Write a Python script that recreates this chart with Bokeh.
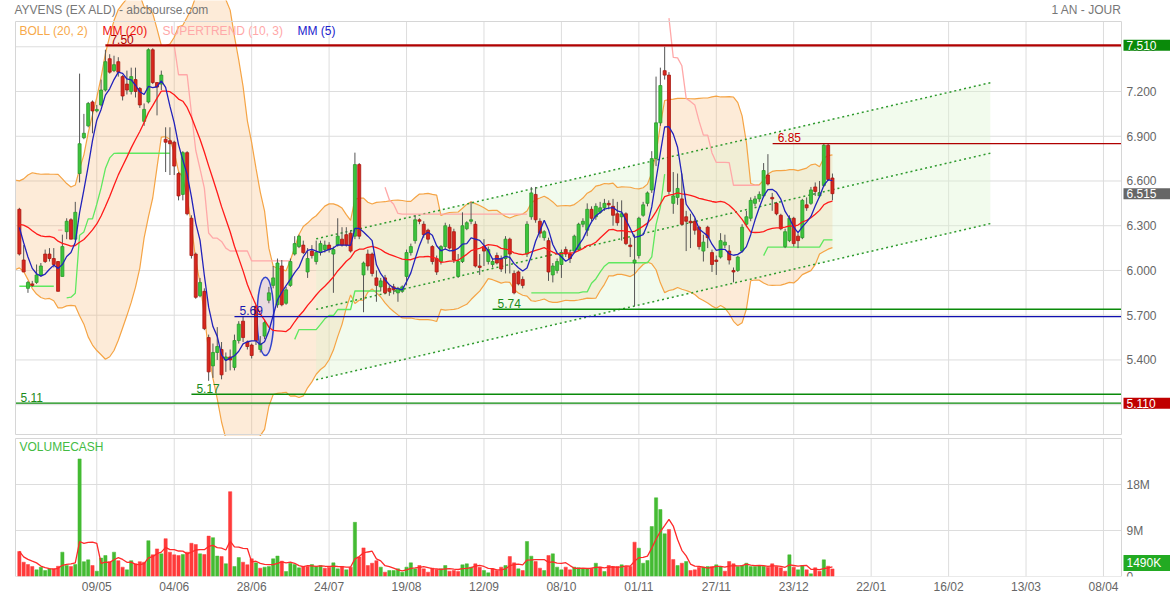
import numpy as np
import pandas as pd
from bokeh.plotting import figure
from bokeh.layouts import column
from bokeh.models import Range1d, FixedTicker, Label
from bokeh.core.properties import value
from bokeh.embed import file_html
from bokeh.resources import INLINE

FONT = "Liberation Sans"

# ---------------- data ----------------
warmup_closes = [6.05, 6.10, 6.20, 6.35, 6.40, 6.30, 6.15, 6.05, 6.20, 6.35,
                 6.45, 6.52, 6.40, 6.30, 6.42, 6.55, 6.50, 6.40, 6.28, 6.15]
supertrend_atr_seed = 0.10

opens = [6.41, 6.07, 5.88, 5.91, 5.92, 5.97, 6.11, 6.11, 6.08, 6.06,
         5.96, 6.26, 6.34, 6.21, 6.65, 6.89, 6.97, 7.13, 7.07, 7.11,
         7.21, 7.42, 7.34, 7.40, 7.30, 7.25, 7.20, 7.28, 7.22, 7.00,
         7.13, 7.48, 7.26, 7.25, 6.88, 6.87, 6.86, 6.65, 6.51, 6.79,
         6.35, 6.11, 5.83, 5.86, 5.55, 5.36, 5.45, 5.47, 5.40, 5.42,
         5.35, 5.53, 5.66, 5.52, 5.50, 5.76, 5.47, 5.56, 5.80, 5.90,
         5.77, 6.03, 5.78, 5.90, 6.11, 6.16, 6.17, 5.99, 6.13, 6.06,
         6.12, 6.14, 6.17, 6.11, 6.17, 6.21, 6.24, 6.25, 6.23, 6.71,
         5.97, 6.11, 6.11, 5.95, 5.89, 5.95, 5.88, 5.89, 5.85, 5.86,
         5.96, 6.12, 6.20, 6.34, 6.31, 6.27, 6.16, 6.08, 6.06, 6.16,
         6.29, 6.26, 5.96, 6.06, 6.28, 6.33, 6.31, 6.03, 6.16, 6.06,
         6.04, 6.10, 6.08, 6.08, 6.21, 5.98, 5.99, 5.94, 6.11, 6.36,
         6.51, 6.33, 6.22, 6.20, 5.97, 6.00, 6.04, 6.14, 6.11, 6.13,
         6.14, 6.31, 6.27, 6.41, 6.36, 6.39, 6.42, 6.45, 6.43, 6.38,
         6.36, 6.38, 6.17, 6.05, 6.10, 6.37, 6.45, 6.54, 6.75, 6.99,
         7.34, 7.31, 6.45, 6.49, 6.48, 6.36, 6.33, 6.33, 6.29, 6.13,
         6.29, 6.12, 6.07, 6.09, 6.17, 6.13, 6.00, 6.00, 6.13, 6.31,
         6.35, 6.45, 6.48, 6.50, 6.64, 6.49, 6.45, 6.37, 6.16, 6.20,
         6.35, 6.23, 6.22, 6.44, 6.45, 6.56, 6.50, 6.57, 6.84, 6.62]

highs = [6.42, 6.17, 5.93, 5.93, 6.04, 6.05, 6.14, 6.15, 6.15, 6.06,
         6.24, 6.35, 6.35, 6.46, 7.32, 7.05, 7.13, 7.14, 7.11, 7.28,
         7.48, 7.45, 7.44, 7.43, 7.31, 7.34, 7.36, 7.36, 7.23, 7.12,
         7.49, 7.49, 7.26, 7.34, 6.96, 6.96, 6.87, 6.66, 6.80, 6.80,
         6.37, 6.12, 5.95, 5.88, 5.57, 5.51, 5.62, 5.52, 5.45, 5.47,
         5.57, 5.66, 5.69, 5.53, 5.51, 5.77, 5.56, 5.67, 5.89, 6.03,
         6.08, 6.07, 5.89, 6.08, 6.23, 6.24, 6.20, 6.15, 6.17, 6.20,
         6.20, 6.20, 6.19, 6.16, 6.35, 6.29, 6.29, 6.27, 6.79, 6.72,
         6.06, 6.14, 6.12, 6.00, 5.95, 5.97, 5.90, 5.91, 5.89, 5.90,
         6.14, 6.18, 6.37, 6.35, 6.33, 6.28, 6.17, 6.10, 6.17, 6.32,
         6.31, 6.28, 6.11, 6.39, 6.33, 6.46, 6.33, 6.11, 6.21, 6.16,
         6.08, 6.12, 6.10, 6.23, 6.22, 6.00, 6.00, 5.96, 6.33, 6.56,
         6.56, 6.35, 6.27, 6.22, 6.05, 6.08, 6.14, 6.16, 6.13, 6.24,
         6.32, 6.35, 6.45, 6.43, 6.45, 6.46, 6.48, 6.47, 6.48, 6.46,
         6.47, 6.39, 6.22, 6.24, 6.36, 6.46, 6.53, 6.80, 7.30, 7.36,
         7.50, 7.33, 6.66, 6.65, 6.65, 6.40, 6.38, 6.35, 6.30, 6.24,
         6.30, 6.14, 6.10, 6.25, 6.24, 6.17, 6.02, 6.10, 6.31, 6.40,
         6.49, 6.50, 6.53, 6.72, 6.78, 6.52, 6.46, 6.38, 6.28, 6.37,
         6.36, 6.25, 6.48, 6.49, 6.56, 6.59, 6.60, 6.85, 6.85, 6.65]

lows = [6.10, 5.99, 5.85, 5.89, 5.91, 5.96, 6.05, 6.06, 6.02, 5.86,
        5.96, 6.21, 6.21, 6.21, 6.59, 6.88, 6.96, 6.92, 7.06, 7.10,
        7.20, 7.32, 7.33, 7.30, 7.14, 7.18, 7.18, 7.16, 7.09, 6.97,
        7.12, 7.25, 7.04, 7.21, 6.66, 6.64, 6.64, 6.47, 6.47, 6.37,
        6.08, 5.81, 5.82, 5.60, 5.26, 5.28, 5.40, 5.27, 5.32, 5.33,
        5.33, 5.51, 5.52, 5.47, 5.41, 5.50, 5.45, 5.54, 5.78, 5.88,
        5.75, 5.76, 5.77, 5.89, 6.10, 6.15, 6.11, 5.95, 6.08, 6.04,
        6.10, 6.12, 6.12, 5.85, 6.16, 6.16, 6.16, 6.12, 6.21, 6.21,
        5.72, 6.00, 5.96, 5.79, 5.86, 5.84, 5.83, 5.84, 5.79, 5.85,
        5.90, 6.10, 6.18, 6.31, 6.22, 6.18, 6.04, 5.97, 6.04, 6.14,
        6.14, 6.05, 5.95, 6.05, 6.27, 6.31, 6.02, 5.97, 6.03, 6.04,
        6.02, 6.04, 5.99, 5.98, 5.98, 5.84, 5.90, 5.88, 6.09, 6.34,
        6.32, 6.22, 6.20, 5.93, 5.92, 5.98, 5.95, 6.09, 6.05, 6.12,
        6.13, 6.29, 6.23, 6.33, 6.34, 6.38, 6.40, 6.41, 6.30, 6.30,
        6.20, 6.17, 6.09, 5.76, 6.08, 6.36, 6.43, 6.52, 6.70, 6.97,
        7.28, 6.51, 6.38, 6.44, 6.30, 6.13, 6.15, 6.24, 6.14, 6.06,
        6.15, 5.99, 5.97, 6.08, 6.15, 6.04, 5.92, 5.99, 6.12, 6.29,
        6.33, 6.43, 6.46, 6.49, 6.57, 6.40, 6.37, 6.27, 6.15, 6.19,
        6.16, 6.15, 6.21, 6.40, 6.44, 6.50, 6.49, 6.56, 6.60, 6.47]

closes = [6.11, 5.99, 5.92, 5.90, 5.97, 6.03, 6.06, 6.08, 6.04, 5.86,
          6.16, 6.33, 6.21, 6.39, 6.85, 6.92, 7.12, 7.07, 7.08, 7.21,
          7.40, 7.33, 7.38, 7.33, 7.17, 7.21, 7.30, 7.20, 7.11, 7.08,
          7.48, 7.26, 7.23, 7.31, 6.86, 6.85, 6.70, 6.50, 6.79, 6.38,
          6.10, 5.82, 5.92, 5.61, 5.32, 5.45, 5.49, 5.30, 5.42, 5.40,
          5.53, 5.64, 5.55, 5.49, 5.43, 5.53, 5.51, 5.65, 5.85, 5.95,
          6.05, 5.77, 5.87, 6.06, 6.18, 6.23, 6.12, 6.08, 6.10, 6.12,
          6.18, 6.17, 6.14, 6.14, 6.23, 6.17, 6.17, 6.13, 6.71, 6.23,
          6.05, 6.03, 5.98, 5.90, 5.93, 5.85, 5.86, 5.87, 5.88, 5.89,
          6.12, 6.16, 6.34, 6.33, 6.24, 6.21, 6.06, 5.99, 6.16, 6.30,
          6.15, 6.07, 6.06, 6.30, 6.32, 6.34, 6.03, 6.02, 6.13, 6.14,
          6.06, 6.05, 6.01, 6.21, 6.11, 5.85, 5.91, 5.90, 6.31, 6.52,
          6.34, 6.25, 6.26, 5.99, 6.03, 6.06, 6.12, 6.11, 6.08, 6.23,
          6.31, 6.33, 6.41, 6.35, 6.43, 6.42, 6.45, 6.44, 6.37, 6.32,
          6.38, 6.18, 6.16, 6.07, 6.35, 6.44, 6.52, 6.75, 6.99, 7.24,
          7.31, 6.53, 6.50, 6.55, 6.31, 6.33, 6.32, 6.27, 6.16, 6.19,
          6.22, 6.04, 6.06, 6.20, 6.19, 6.07, 5.99, 6.09, 6.29, 6.36,
          6.47, 6.48, 6.51, 6.67, 6.58, 6.48, 6.38, 6.28, 6.26, 6.35,
          6.18, 6.20, 6.47, 6.42, 6.54, 6.53, 6.52, 6.84, 6.61, 6.515]

volumes_m = [4.9, 2.8, 2.35, 1.96, 1.3, 1.83, 1.17, 1.5, 1.5, 2.0,
             4.76, 2.15, 1.96, 2.35, 23.0, 2.9, 3.26, 2.15, 1.04, 3.6,
             4.1, 2.9, 4.76, 3.1, 1.83, 1.3, 3.1, 2.5, 2.9, 2.8,
             7.0, 4.24, 5.4, 4.43, 7.4, 4.76, 4.24, 4.1, 4.3, 4.76,
             6.5, 6.26, 4.43, 4.3, 7.9, 7.6, 4.0, 3.9, 2.5, 16.6,
             1.96, 3.7, 2.8, 2.3, 3.46, 2.67, 1.63, 1.83, 1.96, 3.46,
             4.0, 3.0, 0.98, 2.6, 2.35, 1.7, 1.96, 1.96, 2.35, 1.96,
             2.15, 1.63, 1.83, 2.67, 1.5, 1.96, 1.3, 1.83, 10.6, 3.8,
             5.6, 2.15, 2.6, 3.1, 1.83, 0.85, 1.17, 1.17, 1.5, 0.85,
             1.83, 2.67, 1.5, 2.15, 1.5, 0.85, 1.63, 1.37, 1.5, 2.15,
             1.04, 1.17, 0.98, 2.28, 2.48, 1.83, 2.48, 1.83, 1.17, 0.72,
             1.5, 1.17, 1.83, 2.15, 3.91, 2.67, 1.5, 1.17, 6.85, 3.98,
             2.93, 1.63, 1.17, 4.11, 4.43, 1.83, 1.3, 1.83, 1.3, 1.83,
             1.7, 1.5, 1.5, 1.63, 2.6, 1.83, 0.98, 2.15, 1.96, 1.96,
             2.28, 1.96, 1.96, 6.72, 5.54, 2.6, 3.13, 9.78, 15.4, 13.1,
             8.35, 9.2, 3.33, 2.15, 2.6, 2.93, 1.17, 1.3, 1.83, 1.83,
             1.96, 1.96, 2.28, 1.96, 1.04, 2.93, 2.48, 1.96, 2.15, 2.6,
             1.96, 1.96, 2.15, 2.02, 1.83, 2.48, 1.96, 1.7, 1.04, 4.24,
             1.83, 1.3, 2.15, 1.3, 0.52, 1.7, 1.04, 3.26, 2.02, 1.49]

tick_index = [18, 36, 54, 72, 90, 108, 126, 144, 162, 180, 198, 216, 234, 252]
tick_labels = ["09/05", "04/06", "28/06", "24/07", "19/08", "12/09", "08/10",
               "01/11", "27/11", "23/12", "22/01", "16/02", "13/03", "08/04"]
price_ticks = [5.1, 5.4, 5.7, 6.0, 6.3, 6.6, 6.9, 7.2, 7.5]
volume_ticks = [9, 18]
volume_tick_labels = ["9M", "18M"]

level_values = [7.51, 6.85, 5.74, 5.69, 5.17, 5.11]
level_start = [20.0, 175.1, 110.0, 50.0, 40.0, -0.897]
level_texts = ["7.50", "6.85", "5.74", "5.69", "5.17", "5.11"]

channel_x = [69.0, 225.7]
channel_upper = [6.212, 7.259]
channel_lower = [5.267, 6.314]

ellipse_x = [57.2]
ellipse_y = [5.692]
ellipse_w = [3.86]
ellipse_h = [0.525]

period_high = 7.51
period_low = 5.11

# plot-area bounds (data units) and where they sit on the page (pixels)
X0, X1, PX_L, PX_R = -0.897, 256.19, 15, 1121
Y0, Y1, PY_B, PY_T = 4.90, 7.6695, 434, 21
V0, V1, VPY_B, VPY_T = 0.0, 27.0, 576, 438
W, H_PRICE, H_VOL, VOL_AXIS_H = 1170, 436, 162, 22


def xd(px):
    return X0 + (px - PX_L) * (X1 - X0) / (PX_R - PX_L)


def yd(py):
    return Y0 + (PY_B - py) * (Y1 - Y0) / (PY_B - PY_T)


def vd(py):
    return V0 + (VPY_B - py) * (V1 - V0) / (VPY_B - VPY_T)


# ---------------- derived series ----------------
n = len(closes)
idx = np.arange(n)
O = np.array(opens); H = np.array(highs); L = np.array(lows); C = np.array(closes)
V = np.array(volumes_m)
w = len(warmup_closes)

allc = pd.Series(list(warmup_closes) + list(closes))
mm20_all = allc.rolling(20).mean()
sd20_all = allc.rolling(20).std(ddof=0)
mm5_all = allc.rolling(5).mean()
boll_x = np.arange(-1, n)
boll_up = (mm20_all + 2 * sd20_all).values[w - 1:]
boll_lo = (mm20_all - 2 * sd20_all).values[w - 1:]
mm20 = mm20_all.values[w:]
mm5 = mm5_all.values[w:]

prev_c = np.r_[warmup_closes[-1], C[:-1]]
tr = np.maximum(H - L, np.maximum(np.abs(H - prev_c), np.abs(L - prev_c)))
atr = np.zeros(n)
a = supertrend_atr_seed
for i in range(n):
    a = a + (tr[i] - a) / 10.0
    atr[i] = a
hl2 = (H + L) / 2
bu = hl2 + 3 * atr
bl = hl2 - 3 * atr
fu = bu.copy(); fl = bl.copy(); trend = np.ones(n)
for i in range(1, n):
    fu[i] = bu[i] if (bu[i] < fu[i - 1] or C[i - 1] > fu[i - 1]) else fu[i - 1]
    fl[i] = bl[i] if (bl[i] > fl[i - 1] or C[i - 1] < fl[i - 1]) else fl[i - 1]
    if trend[i - 1] == 1:
        trend[i] = -1 if C[i] < fl[i] else 1
    else:
        trend[i] = 1 if C[i] > fu[i] else -1
st_up = np.where(trend == 1, fl, np.nan)
st_dn = np.where(trend == -1, fu, np.nan)

vol_ma = pd.Series(V).rolling(5, min_periods=1).mean().values
vol_up = C >= prev_c

GREEN_C, RED_C = "#3cc43c", "#d8261e"
body_fill = np.where(C >= O, GREEN_C, RED_C)
body_line = np.where(C >= O, "#2a9a2a", "#a81810")
vol_col = np.where(vol_up, "#44bb33", "#ff3a3a")

GRID = "#dddddd"
FRAME = "#d6d6d6"
TICK_TXT = "#666666"

# ---------------- price panel ----------------
XR = Range1d(xd(0), xd(W))
p = figure(width=W, height=H_PRICE, x_range=XR, y_range=Range1d(yd(H_PRICE), yd(0)),
           output_backend="svg", toolbar_location=None,
           x_axis_location=None, y_axis_location=None,
           min_border=0, min_border_left=0, min_border_right=0,
           min_border_top=0, min_border_bottom=0,
           background_fill_color="white", border_fill_color="white",
           outline_line_color=None)
p.xgrid.visible = False
p.ygrid.visible = False

# grid
p.segment(x0=X0, y0=price_ticks, x1=X1, y1=price_ticks, line_color=GRID, line_width=1)
p.segment(x0=tick_index, y0=Y0, x1=tick_index, y1=Y1, line_color=GRID, line_width=1)

# Bollinger band
p.varea(x=boll_x, y1=boll_lo, y2=boll_up, fill_color="#f7af63", fill_alpha=0.25)
# trend channel
p.varea(x=channel_x, y1=channel_lower, y2=channel_upper, fill_color="#dcf4d0", fill_alpha=0.38)
p.line(boll_x, boll_up, line_color="#f5a445", line_width=1.2)
p.line(boll_x, boll_lo, line_color="#f5a445", line_width=1.2)
channel_mid = [(u + l) / 2 for u, l in zip(channel_upper, channel_lower)]
for ys in (channel_upper, channel_mid, channel_lower):
    p.line(channel_x, ys, line_color="#2e9a2e", line_width=1.5, line_dash="2 3")

# supertrend
p.line(idx, st_dn, line_color="#ffa8a8", line_width=1.3)
p.line(idx, st_up, line_color="#5fe85f", line_width=1.3)

# ellipse annotation
p.ellipse(x=ellipse_x, y=ellipse_y, width=ellipse_w, height=ellipse_h,
          fill_color="#d9cce6", fill_alpha=0.55, line_color="#3344cc", line_width=1.5)

# candles
p.segment(x0=idx, y0=L, x1=idx, y1=H, line_color="#555555", line_width=1)
p.vbar(x=idx, width=0.7, top=np.maximum(O, C), bottom=np.minimum(O, C),
       fill_color=body_fill, line_color=body_line, line_width=0.8)

# moving averages
p.line(idx, mm20, line_color="#ff1a1a", line_width=1.3)
p.line(idx, mm5, line_color="#2222bb", line_width=1.3)

# horizontal levels
level_colors = ["#b00000", "#b00000", "#0a8a0a", "#1010b0", "#0a8a0a", "#0a8a0a"]
level_widths = [2.2, 1.3, 1.3, 1.3, 1.3, 1.3]
text_colors = ["#b00000", "#cc0000", "#1a8a1a", "#1a1ab0", "#1a8a1a", "#1a8a1a"]
for lv, ls, lt, lc, lw, tc in zip(level_values, level_start, level_texts,
                                  level_colors, level_widths, text_colors):
    p.segment(x0=[ls], y0=[lv], x1=[X1], y1=[lv], line_color=lc, line_width=lw)
    p.text(x=[ls], y=[lv], text=[lt], x_offset=5, y_offset=-6, text_baseline="middle",
           text_font=value(FONT), text_font_size="12px", text_color=tc)

# frame
p.quad(left=[X0], right=[X1], bottom=[Y0], top=[Y1], fill_color=None,
       line_color=FRAME, line_width=1)

# price tick labels (right side)
p.text(x=xd(PX_R + 5), y=price_ticks, text=["%.3f" % t for t in price_ticks],
       text_baseline="middle", text_font=value(FONT), text_font_size="12px",
       text_color=TICK_TXT)


def txt(fig, px, y, text, color, align="left"):
    fig.text(x=[xd(px)], y=[y], text=[text], text_align=align, text_baseline="middle",
             text_font=value(FONT), text_font_size="12px", text_color=color)


txt(p, 14, yd(9), "AYVENS (EX ALD) - abcbourse.com", "#777777")
txt(p, PX_R, yd(9), "1 AN - JOUR", "#777777", align="right")
txt(p, 19, yd(30), "BOLL (20, 2)", "#f7a94b")
txt(p, 102, yd(30), "MM (20)", "#ee1111")
txt(p, 162, yd(30), "SUPERTREND (10, 3)", "#ffa8a8")
txt(p, 297, yd(30), "MM (5)", "#2222cc")


def box(fig, y, text, bg, yoff=0):
    fig.add_layout(Label(x=PX_R + 2, y=y, x_units="screen", y_units="data", text=text,
                         text_color="white", text_font=FONT, text_font_size="12px",
                         text_baseline="middle", background_fill_color=bg,
                         padding=dict(left=3, right=16, top=1, bottom=1), y_offset=yoff))


box(p, period_high, "%.3f" % period_high, "#0a8a0a")
box(p, C[-1], "%.3f" % C[-1], "#666666")
box(p, period_low, "%.3f" % period_low, "#c00000")

# ---------------- volume panel ----------------
vol_top = vd(H_PRICE)
v = figure(width=W, height=H_VOL, x_range=XR, y_range=Range1d(0, vol_top),
           output_backend="svg", toolbar_location=None, y_axis_location=None,
           min_border=0, min_border_left=0, min_border_right=0,
           min_border_top=0, min_border_bottom=VOL_AXIS_H,
           background_fill_color="white", border_fill_color="white",
           outline_line_color=None)
v.xaxis.ticker = FixedTicker(ticks=tick_index)
v.xaxis.major_label_overrides = {t: s for t, s in zip(tick_index, tick_labels)}
ax = v.xaxis[0]
ax.axis_line_color = None
ax.major_tick_line_color = None
ax.minor_tick_line_color = None
ax.major_tick_out = 0
ax.major_tick_in = 0
ax.major_label_text_font = FONT
ax.major_label_text_font_size = "12px"
ax.major_label_text_color = TICK_TXT
ax.major_label_standoff = 3
v.xgrid.visible = False
v.ygrid.visible = False

v.segment(x0=X0, y0=volume_ticks, x1=X1, y1=volume_ticks, line_color=GRID, line_width=1)
v.segment(x0=tick_index, y0=V0, x1=tick_index, y1=V1, line_color=GRID, line_width=1)

v.vbar(x=idx, width=0.75, top=V, bottom=0, fill_color=vol_col, line_color=vol_col, line_width=0.5)
v.line(idx, vol_ma, line_color="#ff2a2a", line_width=1.3)
v.quad(left=[X0], right=[X1], bottom=[V0], top=[V1], fill_color=None,
       line_color=FRAME, line_width=1)

v.text(x=xd(PX_R + 5), y=volume_ticks, text=volume_tick_labels,
       text_baseline="middle", text_font=value(FONT), text_font_size="12px",
       text_color=TICK_TXT)
v.text(x=[xd(PX_R + 5)], y=[V0], text=["0"], text_baseline="middle",
       text_font=value(FONT), text_font_size="12px", text_color=TICK_TXT)
v.text(x=[xd(19)], y=[vd(446)], text=["VOLUMECASH"], text_baseline="middle",
       text_font=value(FONT), text_font_size="12px", text_color="#44bb44")
v.add_layout(Label(x=PX_R + 2, y=V[-1], x_units="screen", y_units="data",
                   text="%dK" % round(V[-1] * 1000), text_color="white", text_font=FONT,
                   text_font_size="12px", text_baseline="middle",
                   background_fill_color="#22aa22",
                   padding=dict(left=3, right=16, top=1, bottom=1), y_offset=6))

layout = column(p, v, spacing=0)
open("out.html", "w").write(file_html(layout, INLINE))
